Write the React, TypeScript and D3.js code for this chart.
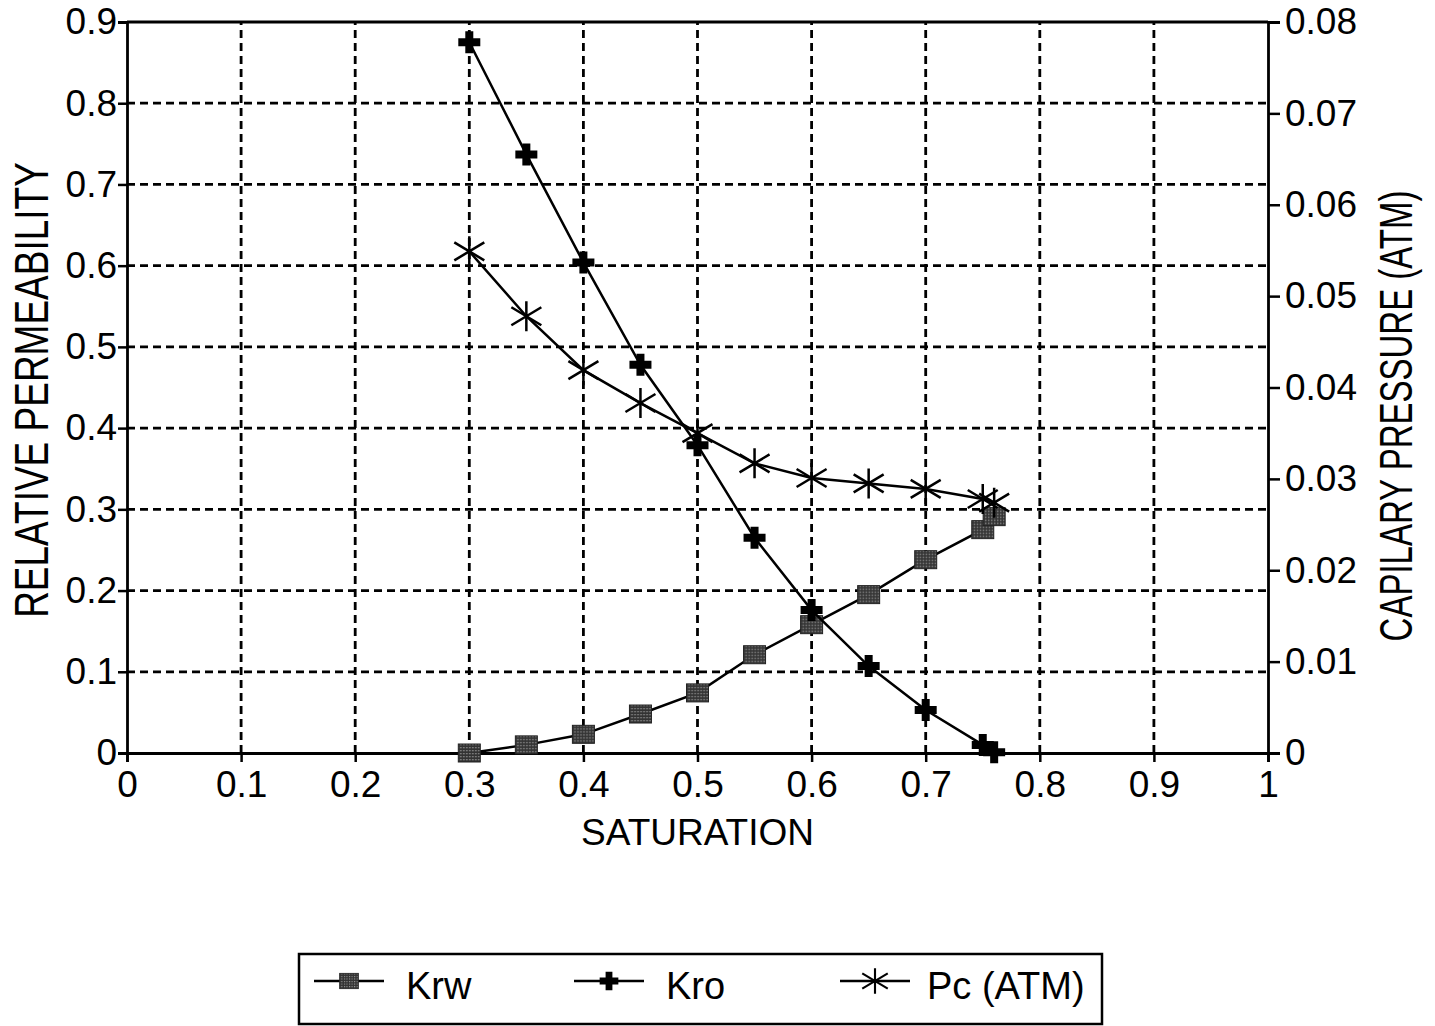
import { useEffect, useRef } from 'react'
import * as d3 from 'd3'

const saturation = [0.3, 0.35, 0.4, 0.45, 0.5, 0.55, 0.6, 0.65, 0.7, 0.75, 0.76]
const krw = [0, 0.01, 0.023, 0.048, 0.074, 0.121, 0.158, 0.195, 0.238, 0.275, 0.291]
const kro = [0.875, 0.737, 0.604, 0.478, 0.379, 0.265, 0.176, 0.107, 0.053, 0.01, 0.001]
const pc = [0.0549, 0.0478, 0.0419, 0.0383, 0.035, 0.0317, 0.0301, 0.0295, 0.0289, 0.0278, 0.0274]

const xTicks = [0, 0.1, 0.2, 0.3, 0.4, 0.5, 0.6, 0.7, 0.8, 0.9, 1]
const yTicks = [0, 0.1, 0.2, 0.3, 0.4, 0.5, 0.6, 0.7, 0.8, 0.9]
const y2Ticks = [0, 0.01, 0.02, 0.03, 0.04, 0.05, 0.06, 0.07, 0.08]

const legendItems = ['Krw', 'Kro', 'Pc (ATM)']

const FONT = '"Liberation Sans", Arial, sans-serif'

export default function App() {
  const ref = useRef<SVGSVGElement>(null)

  useEffect(() => {
    const svg = d3.select(ref.current)
    svg.selectAll('*').remove()
    const width = 1435
    const height = 1026
    const margin = { top: 22, right: 167, bottom: 273, left: 127 }

    const x = d3.scaleLinear().domain([0, 1]).range([margin.left, width - margin.right])
    const y = d3.scaleLinear().domain([0, 0.9]).range([height - margin.bottom, margin.top])
    const y2 = d3.scaleLinear().domain([0, 0.08]).range([height - margin.bottom, margin.top])

    // stipple pattern for Krw squares
    const defs = svg.append('defs')
    const pat = defs.append('pattern').attr('id', 'stipple').attr('width', 3).attr('height', 3).attr('patternUnits', 'userSpaceOnUse')
    pat.append('rect').attr('width', 3).attr('height', 3).attr('fill', '#333')
    pat.append('rect').attr('width', 1.3).attr('height', 1.3).attr('fill', '#999')

    // gridlines
    const grid = svg.append('g').attr('stroke', '#000').attr('stroke-width', 2.8).attr('stroke-dasharray', '8,5')
    grid.selectAll('line.v').data(xTicks.slice(1, -1)).enter().append('line')
      .attr('x1', d => x(d)).attr('x2', d => x(d)).attr('y1', y(0)).attr('y2', y(0.9))
    grid.selectAll('line.h').data(yTicks.slice(1, -1)).enter().append('line')
      .attr('x1', x(0)).attr('x2', x(1)).attr('y1', d => y(d)).attr('y2', d => y(d))

    // frame top
    svg.append('line').attr('x1', x(0)).attr('x2', x(1)).attr('y1', y(0.9)).attr('y2', y(0.9))
      .attr('stroke', '#000').attr('stroke-width', 2.8)

    const styleAxis = (g: any) => {
      g.select('.domain').attr('stroke', '#000').attr('stroke-width', 2.8)
      g.selectAll('.tick line').attr('stroke', '#000').attr('stroke-width', 2.5)
      g.selectAll('.tick text').attr('fill', '#000').style('font-family', FONT).style('font-size', '37px')
    }
    const fmt = (d: any) => d3.format('')(+d)

    svg.append('g').attr('transform', `translate(0,${y(0)})`)
      .call(d3.axisBottom(x).tickValues(xTicks).tickFormat(fmt).tickSize(9))
      .call(styleAxis)
      .selectAll('.tick text').attr('y', 44).attr('dy', 0)

    svg.append('g').attr('transform', `translate(${x(0)},0)`)
      .call(d3.axisLeft(y).tickValues(yTicks).tickFormat(fmt).tickSize(9).tickPadding(1))
      .call(styleAxis)

    svg.append('g').attr('transform', `translate(${x(1)},0)`)
      .call(d3.axisRight(y2).tickValues(y2Ticks).tickFormat(fmt).tickSize(12).tickPadding(5))
      .call(styleAxis)

    // axis titles
    svg.append('text').attr('x', (x(0) + x(1)) / 2).attr('y', 845).attr('text-anchor', 'middle')
      .style('font-family', FONT).style('font-size', '37px').text('SATURATION')
    svg.append('text').attr('transform', `translate(48,390) rotate(-90) scale(1,1.3)`).attr('text-anchor', 'middle')
      .style('font-family', FONT).style('font-size', '37px').text('RELATIVE PERMEABILITY')
    svg.append('text').attr('transform', `translate(1412,416) rotate(-90) scale(1,1.4)`).attr('text-anchor', 'middle')
      .style('font-family', FONT).style('font-size', '33px').text('CAPILARY PRESSURE (ATM)')

    // markers
    const square = (g: any) => g.append('rect').attr('x', -11).attr('y', -9).attr('width', 22).attr('height', 18)
      .attr('fill', 'url(#stipple)').attr('stroke', '#222').attr('stroke-width', 1)
    const plus = (g: any) => g.append('path').attr('d', 'M-4,-11H4V-4H11V4H4V11H-4V4H-11V-4H-4Z').attr('fill', '#000')
    const star = (g: any) => g.append('path').attr('d', 'M0,-15V15M-15,-9L15,9M-15,9L15,-9').attr('stroke', '#000').attr('stroke-width', 2.5).attr('fill', 'none')

    const series = [
      { vals: krw, sc: y, mark: square },
      { vals: kro, sc: y, mark: plus },
      { vals: pc, sc: y2, mark: star },
    ]
    series.forEach(s => {
      const pts = saturation.map((v, i) => [x(v), s.sc(s.vals[i])] as [number, number])
      svg.append('path').attr('d', d3.line()(pts)).attr('fill', 'none').attr('stroke', '#000').attr('stroke-width', 2.5)
      pts.forEach(p => {
        const g = svg.append('g').attr('transform', `translate(${p[0]},${p[1]})`)
        s.mark(g)
      })
    })

    // legend
    const lg = svg.append('g')
    lg.append('rect').attr('x', 299).attr('y', 954).attr('width', 803).attr('height', 70)
      .attr('fill', 'none').attr('stroke', '#000').attr('stroke-width', 2.5)
    const lx = [314, 574, 840]
    const marks = [square, plus, star]
    legendItems.forEach((name, i) => {
      lg.append('line').attr('x1', lx[i]).attr('x2', lx[i] + 70).attr('y1', 981).attr('y2', 981)
        .attr('stroke', '#000').attr('stroke-width', 2.5)
      const g = lg.append('g').attr('transform', `translate(${lx[i] + 35},981) scale(0.85)`)
      marks[i](g)
      lg.append('text').attr('x', lx[i] + (i === 2 ? 87 : 92)).attr('y', 999)
        .style('font-family', FONT).style('font-size', '38px').text(name)
    })
  }, [])

  return <svg ref={ref} width={1435} height={1026} style={{ position: 'absolute', left: 0, top: 0, background: '#fff' }} />
}
